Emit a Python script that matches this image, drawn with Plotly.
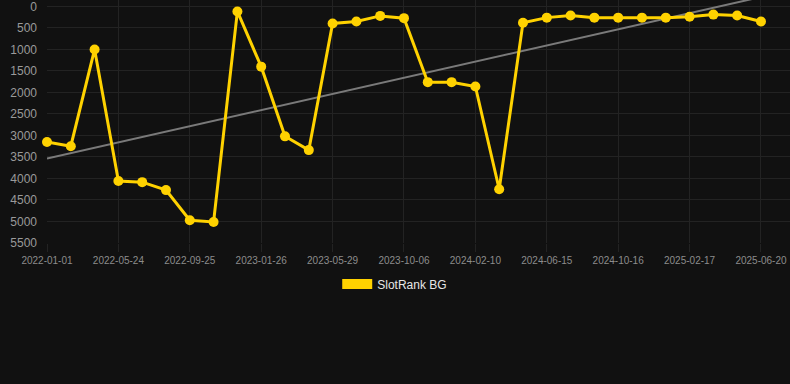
import numpy as np
import plotly.graph_objects as go

dates = [
    "2022-01-01", "2022-02-17", "2022-04-05", "2022-05-24", "2022-07-04", "2022-08-14",
    "2022-09-25", "2022-11-05", "2022-12-16", "2023-01-26", "2023-03-08", "2023-04-18",
    "2023-05-29", "2023-07-12", "2023-08-24", "2023-10-06", "2023-11-17", "2023-12-29",
    "2024-02-10", "2024-03-23", "2024-05-04", "2024-06-15", "2024-07-26", "2024-09-05",
    "2024-10-16", "2024-11-26", "2025-01-06", "2025-02-17", "2025-03-30", "2025-05-10",
    "2025-06-20",
]
rank = [
    3150, 3250, 1000, 4060, 4085, 4270, 4970, 5010, 116, 1400, 3020, 3340,
    395, 350, 220, 272, 1760, 1760, 1860, 4250, 380, 260, 210, 260,
    260, 260, 260, 240, 190, 210, 350,
]
tick_labels = dates[::3]
y_ticks = [0, 500, 1000, 1500, 2000, 2500, 3000, 3500, 4000, 4500, 5000, 5500]
series_name = "SlotRank BG"

idx = np.arange(len(rank))
slope, intercept = np.polyfit(idx, rank, 1)
trend = slope * idx + intercept

GOLD = "#FFD200"
GRID = "#232323"
FONT = "Liberation Sans, Arial, sans-serif"

fig = go.Figure()
fig.add_trace(go.Scatter(
    x=dates, y=trend, mode="lines",
    line=dict(color="#7a7a7a", width=2),
    showlegend=False, hoverinfo="skip", cliponaxis=True,
))
fig.add_trace(go.Scatter(
    x=dates, y=rank, mode="lines+markers",
    line=dict(color=GOLD, width=3),
    marker=dict(color=GOLD, size=10),
    showlegend=False, cliponaxis=False,
))
fig.add_trace(go.Scatter(
    x=[dates[0]], y=[None], mode="lines",
    line=dict(color=GOLD, width=11),
    name=series_name, showlegend=True,
))

fig.update_layout(
    width=790, height=384,
    margin=dict(l=47, r=0, t=0, b=141),
    paper_bgcolor="#111111", plot_bgcolor="#111111",
    font=dict(family=FONT, color="#999999"),
    showlegend=True,
    legend=dict(
        orientation="h", x=0.468, xanchor="center", y=-0.169, yanchor="middle",
        font=dict(size=12, color="#e6e6e6", family=FONT),
        bgcolor="rgba(0,0,0,0)",
    ),
    xaxis=dict(
        type="category", categoryorder="array", categoryarray=dates,
        range=[0, 31.22],
        tickmode="array", tickvals=tick_labels, ticktext=tick_labels,
        showgrid=True, gridcolor=GRID, gridwidth=1,
        ticks="outside", ticklen=8, tickcolor=GRID,
        tickfont=dict(size=10, color="#8c8c8c", family=FONT),
        showline=False, zeroline=False, ticklabeloverflow="allow",
    ),
    yaxis=dict(
        range=[5500, -150],
        tickmode="array", tickvals=y_ticks,
        showgrid=True, gridcolor=GRID, gridwidth=1,
        ticks="", ticklabelstandoff=9,
        tickfont=dict(size=12, color="#9a9a9a", family=FONT),
        showline=False, zeroline=False, ticklabeloverflow="allow",
    ),
)

fig.write_html(
    "out.html",
    config={"displayModeBar": False},
    post_script="document.body.style.margin='0';document.body.style.background='#111111';",
)
